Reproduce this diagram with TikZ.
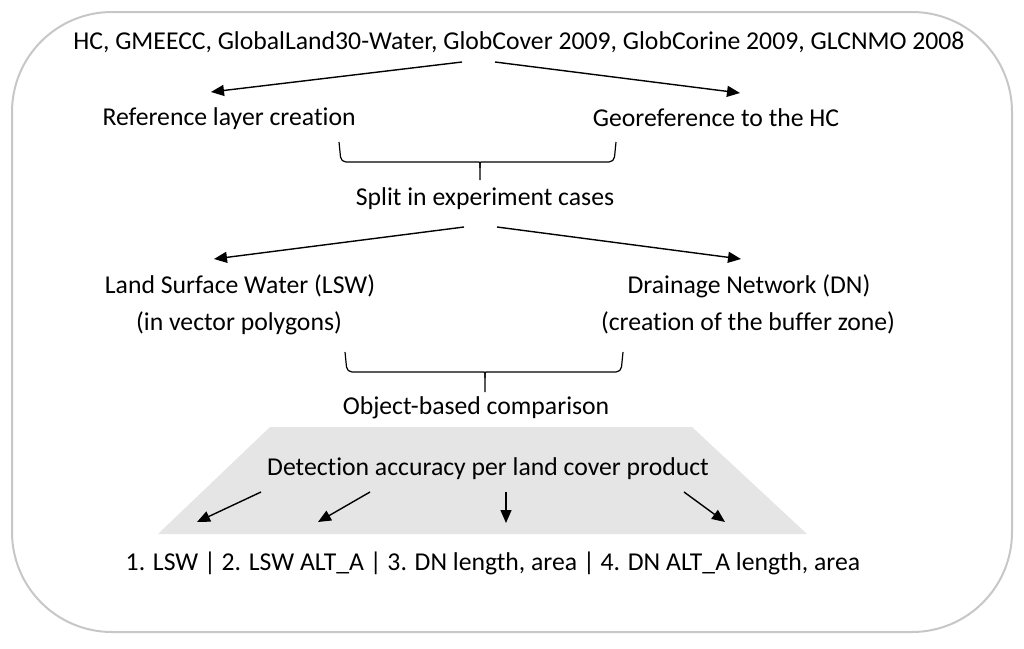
\documentclass[tikz,border=0pt]{standalone}
\usepackage{fontspec}
\setmainfont{Carlito}[Ligatures={NoCommon,NoRare,NoContextual}]
\usetikzlibrary{arrows.meta}
\tikzset{
  lbl/.style={inner sep=0pt, anchor=base, font=\fontsize{25.7}{30}\selectfont},
  flow/.style={line width=1.4pt, -{Triangle[length=13pt,width=11pt]}},
  bracket/.style={line width=1.2pt, rounded corners=5pt},
}
\begin{document}
\begin{tikzpicture}[x=1pt,y=-1pt]
			%%Frame
			\useasboundingbox (0,0) rectangle (1024,648);
			\draw[black!22, line width=2pt, rounded corners=100pt] (12,12) rectangle (1012,632);
			\fill[black!10] (270,427) -- (692,427) -- (807,534) -- (158,534) -- cycle;

			%%Labels
			\node[lbl] (src) at (519,49) {HC, GMEECC, GlobalLand30-Water, GlobCover 2009, GlobCorine 2009, GLCNMO 2008};
			\node[lbl] (ref) at (229,125) {Reference layer creation};
			\node[lbl] (geo) at (716,126) {Georeference to the HC};
			\node[lbl] (split) at (485,205) {Split in experiment cases};
			\node[lbl] (lsw) at (240,293) {Land Surface Water (LSW)};
			\node[lbl] (lswb) at (239,330) {(in vector polygons)};
			\node[lbl] (dn) at (749,293) {Drainage Network (DN)};
			\node[lbl] (dnb) at (748,330) {(creation of the buffer zone)};
			\node[lbl] (obj) at (476,414) {Object-based comparison};
			\node[lbl] (det) at (488,475) {Detection accuracy per land cover product};
			\node[lbl] (res) at (493,570) {1. LSW | 2. LSW ALT\_A | 3. DN length, area | 4. DN ALT\_A length, area};

			%%Arrows
			\coordinate (a1s) at (462,62);  \coordinate (a1e) at (211,92);
			\coordinate (a2s) at (495,62);  \coordinate (a2e) at (740,93);
			\coordinate (a3s) at (464,227); \coordinate (a3e) at (214,259);
			\coordinate (a4s) at (497,227); \coordinate (a4e) at (741,259);
			\draw[flow] (a1s) -- (a1e);
			\draw[flow] (a2s) -- (a2e);
			\draw[flow] (a3s) -- (a3e);
			\draw[flow] (a4s) -- (a4e);
			\coordinate (d1s) at (261,492); \coordinate (d1e) at (197,522);
			\coordinate (d2s) at (370,492); \coordinate (d2e) at (318,522);
			\coordinate (d3s) at (506,492); \coordinate (d3e) at (506,523);
			\coordinate (d4s) at (684,492); \coordinate (d4e) at (725,522);
			\draw[flow] (d1s) -- (d1e);
			\draw[flow] (d2s) -- (d2e);
			\draw[flow] (d3s) -- (d3e);
			\draw[flow] (d4s) -- (d4e);

			%%Braces
			\draw[bracket] (339,142) -- (341,162) -- (474,162) .. controls (480,162) .. (480,168) -- (480,180);
			\draw[bracket] (616,142) -- (614,162) -- (486,162) .. controls (480,162) .. (480,168);
			\draw[bracket] (345,352) -- (347,372) -- (479,372) .. controls (485,372) .. (485,378) -- (485,392);
			\draw[bracket] (623,352) -- (621,372) -- (491,372) .. controls (485,372) .. (485,378);
\end{tikzpicture}
\end{document}
